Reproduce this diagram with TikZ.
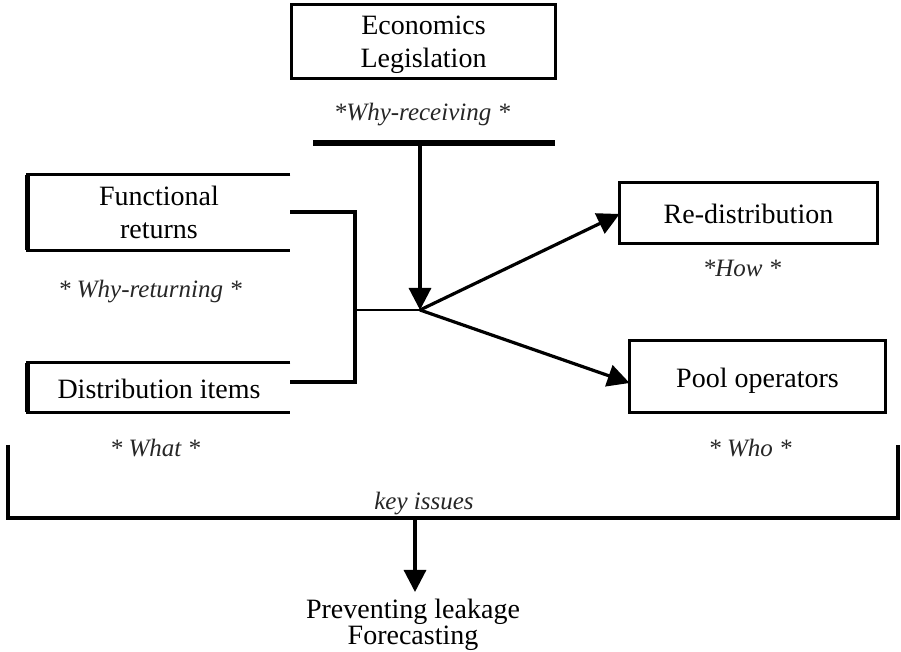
\documentclass[tikz,border=0pt]{standalone}
\usepackage{fontspec}
\setmainfont{Liberation Serif}
\usetikzlibrary{arrows.meta}
\begin{document}
\begin{tikzpicture}[x=0.5pt,y=-0.5pt,
  box/.style={draw=none,inner sep=0pt,font=\fontsize{14}{16.5}\selectfont,align=center},
  frame/.style={line width=1.2pt},
  sidebox/.style={line width=1.2pt},
  note/.style={font=\fontsize{12.5}{14}\itshape\selectfont,text=black!85},
  heavy/.style={line width=3pt},
  link/.style={line width=1.6pt},
  tip/.style={-{Triangle[length=11pt,width=11pt]}},
  outtext/.style={font=\fontsize{14}{13}\selectfont,align=center}]
\useasboundingbox (0,0) rectangle (901,652);

% top box (text sits slightly low in its frame)
\node[box,minimum width=131.5pt,minimum height=36.5pt] (econ) at (423.5,45) {Economics\\Legislation};
\draw[frame] ([yshift=1.75pt]econ.north west) rectangle ([yshift=1.75pt]econ.south east);
\node[note] (why1) at (422,115) {*Why-receiving *};

% bar and downward arrow into the hub
\coordinate (barL) at (313,143);
\coordinate (barR) at (555,143);
\coordinate (barM) at (420,143);
\coordinate (hub) at (420,310);
\draw[heavy] (barL) -- (barR);
\draw[link,tip] (barM) -- (hub);

% left inputs
\node[box,minimum width=131pt,minimum height=37.5pt] (fr) at (159,212.5) {Functional\\returns};
\draw[sidebox] (fr.north east) -- (fr.north west) -- (fr.south west) -- (fr.south east);
\draw[line width=2.2pt] (fr.north west) -- (fr.south west);
\node[note] (why2) at (150,292) {* Why-returning *};

\node[box,minimum width=131pt,minimum height=24.5pt] (di) at (159,389) {Distribution items};
\draw[sidebox] ([yshift=0.75pt]di.north east) -- ([yshift=0.75pt]di.north west) -- ([yshift=0.75pt]di.south west) -- ([yshift=0.75pt]di.south east);
\draw[line width=2.2pt] ([yshift=0.75pt]di.north west) -- ([yshift=0.75pt]di.south west);
\node[note] (what) at (155,448) {* What *};

% bracket joining the inputs
\coordinate (jn) at (355,310);
\draw[line width=2.2pt] ([yshift=0.25pt]fr.east) -| (jn);
\draw[line width=2.2pt] ([yshift=3.5pt]di.east) -| (jn);
\draw[line width=1.3pt] (jn) -- (hub);

% right outputs
\node[box,minimum width=128.5pt,minimum height=30pt] (rd) at (748.5,214) {Re-distribution};
\draw[frame] ([yshift=0.5pt]rd.north west) rectangle ([yshift=0.5pt]rd.south east);
\node[note] (how) at (742,268) {*How *};

\node[box,minimum width=127.5pt,minimum height=35.5pt] (po) at (757.5,381) {Pool operators};
\draw[frame] ([yshift=2.25pt]po.north west) rectangle ([yshift=2.25pt]po.south east);
\node[note] (who) at (750,448) {* Who *};

\draw[link,tip] (hub) -- (rd.west);
\draw[link,tip] (hub) -- ([yshift=-1pt]po.west);

% outer bracket over all key issues
\coordinate (bl) at (8,445);
\coordinate (bbl) at (8,518);
\coordinate (bbr) at (898,518);
\coordinate (br) at (898,445);
\draw[line width=2.2pt] (bl) -- (bbl) -- (bbr) -- (br);
\node[note] (key) at (424,504) {key issues};

% outcome
\coordinate (bm) at (415,518);
\node[outtext,anchor=north] (out) at (413,592) {Preventing leakage\\Forecasting};
\draw[link,tip] (bm) -- (bm |- out.north);
\end{tikzpicture}
\end{document}
